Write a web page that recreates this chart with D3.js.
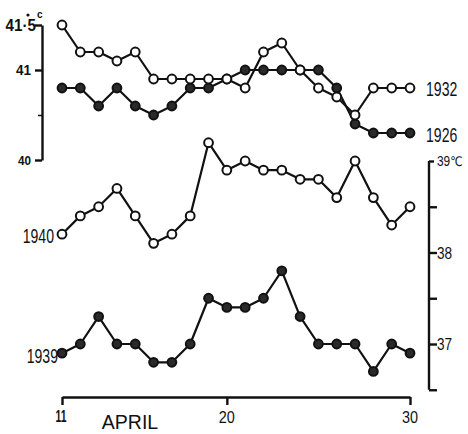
<!DOCTYPE html>
<html>
<head>
<meta charset="utf-8">
<script src="https://cdn.jsdelivr.net/npm/d3@7"></script>
<style>
  html, body { margin: 0; padding: 0; background: #fff; }
  svg { display: block; }
  text { fill: #111; }
</style>
</head>
<body>
<svg id="chart" width="468" height="434"></svg>
<script>
// ---- data ----
const days = d3.range(11, 31); // April 11 .. 30
const s1932 = [41.5, 41.2, 41.2, 41.1, 41.2, 40.9, 40.9, 40.9, 40.9, 40.9, 40.8, 41.2, 41.3, 41.0, 40.8, 40.7, 40.5, 40.8, 40.8, 40.8];
const s1926 = [40.8, 40.8, 40.6, 40.8, 40.6, 40.5, 40.6, 40.8, 40.8, 40.9, 41.0, 41.0, 41.0, 41.0, 41.0, 40.8, 40.4, 40.3, 40.3, 40.3];
const s1940 = [38.2, 38.4, 38.5, 38.7, 38.4, 38.1, 38.2, 38.4, 39.2, 38.9, 39.0, 38.9, 38.9, 38.8, 38.8, 38.6, 39.0, 38.6, 38.3, 38.5];
const s1939 = [36.9, 37.0, 37.3, 37.0, 37.0, 36.8, 36.8, 37.0, 37.5, 37.4, 37.4, 37.5, 37.8, 37.3, 37.0, 37.0, 37.0, 36.7, 37.0, 36.9];
const xTicks = [11, 20, 30];
const xTickLabels = ["11", "20", "30"];
const leftTicks = [40, 40.5, 41, 41.5];
const leftTickLabels = ["40", "", "41", "41·5"];
const rightTicks = [36.5, 37, 37.5, 38, 38.5, 39];
const rightTickLabels = ["", "37", "", "38", "", "39"];
const xTitle = "APRIL";

const svg = d3.select("#chart");
const ink = "#111";
const sans = "'Liberation Sans','DejaVu Sans',Arial,sans-serif";

// ---- scales ----
const x = d3.scaleLinear().domain([11, 30]).range([62, 410]);
const yL = d3.scaleLinear().domain([40, 41.5]).range([160, 25]);
const yR = d3.scaleLinear().domain([37, 39]).range([344, 161]);

// condensed text helper
function cText(str, px, py, size, anchor, sx, weight) {
  const g = svg.append("g").attr("transform", `translate(${px},${py}) scale(${sx},1)`);
  return g.append("text").attr("x", 0).attr("y", 0)
    .attr("text-anchor", anchor)
    .attr("font-family", sans)
    .attr("font-weight", weight || "normal")
    .attr("font-size", size)
    .text(str);
}

// ---- axes ----
function styleAxis(g, w) {
  g.select(".domain").attr("stroke", ink).attr("stroke-width", w);
  g.selectAll(".tick line").attr("stroke", ink).attr("stroke-width", w);
  g.selectAll(".tick text").remove();
}

const gL = svg.append("g").attr("transform", "translate(42,0)")
  .call(d3.axisLeft(yL).tickValues(leftTicks).tickSize(7).tickSizeOuter(0).tickFormat(""));
styleAxis(gL, 2.4);
gL.selectAll(".tick").filter(d => d === 40.5).select("line").attr("x2", -4).attr("stroke-width", 1.5);

const gR = svg.append("g").attr("transform", "translate(429,0)")
  .call(d3.axisRight(yR).tickValues(rightTicks).tickSize(8).tickSizeOuter(0).tickFormat(""));
gR.select(".domain").attr("d", `M0,${yR(39)}V${yR(36.5)}`);
styleAxis(gR, 2.4);
gR.selectAll(".tick").filter(d => d === 39).select("line").attr("x2", 5);

const gX = svg.append("g").attr("transform", "translate(0,397)")
  .call(d3.axisBottom(x).tickValues(xTicks).tickSize(8).tickSizeOuter(0).tickFormat(""));
styleAxis(gX, 2.4);

// left tick labels
leftTicks.forEach((v, i) => {
  const lab = leftTickLabels[i];
  if (!lab) return;
  if (v === 41.5) {
    cText(lab, 36, 31, 16, "end", 0.95, "bold");
    return;
  }
  const size = v === 40 ? 13 : 15;
  cText(lab, 31, yL(v) + size * 0.36, size, "end", 0.9, "bold");
});
// "°c" unit for the top left label
svg.append("text").attr("x", 37).attr("y", 18)
  .attr("font-family", sans).attr("font-weight", "bold").attr("font-size", 10).text("c");
svg.append("circle").attr("cx", 28).attr("cy", 15).attr("r", 1.6).attr("fill", ink);

// right tick labels
rightTicks.forEach((v, i) => {
  const lab = rightTickLabels[i];
  if (!lab) return;
  if (v === 39) {
    const t = cText(lab, 437, yR(v) + 5, 14, "start", 0.85);
    t.append("tspan").attr("font-size", 13).text("℃");
    return;
  }
  cText(lab, 437, yR(v) + 6, 17, "start", 0.8);
});

// x tick labels
xTicks.forEach((v, i) => {
  if (v === 11) cText(xTickLabels[i], x(v) - 1, 422, 16, "middle", 0.65, "bold");
  else cText(xTickLabels[i], x(v), 423, 17, "middle", 0.85);
});
svg.append("text").attr("x", 130).attr("y", 429).attr("text-anchor", "middle")
  .attr("font-family", sans).attr("font-size", 19.5)
  .text(xTitle);

// ---- series ----
function drawSeries(vals, yScale, filled) {
  const pts = days.map((d, i) => [d, vals[i]]);
  const line = d3.line().x(p => x(p[0])).y(p => yScale(p[1]));
  svg.append("path").datum(pts).attr("d", line)
    .attr("fill", "none").attr("stroke", ink).attr("stroke-width", 2.2)
    .attr("stroke-linejoin", "round");
  svg.append("g").selectAll("circle").data(pts).join("circle")
    .attr("cx", p => x(p[0])).attr("cy", p => yScale(p[1]))
    .attr("r", 4.4)
    .attr("fill", filled ? "#2a2a2a" : "#fff")
    .attr("stroke", ink).attr("stroke-width", 2);
}
drawSeries(s1926, yL, true);
drawSeries(s1932, yL, false);
drawSeries(s1939, yR, true);
drawSeries(s1940, yR, false);

// ---- series labels ----
label("1932", x(30) + 16, yL(s1932[19]) + 8, "start");
label("1926", x(30) + 16, yL(s1926[19]) + 9, "start");
label("1940", x(11) - 8, yR(s1940[0]) + 9, "end");
label("1939", x(11) - 4, yR(s1939[0]) + 10, "end");
function label(txt, px, py, anchor) {
  cText(txt, px, py, 21, anchor, 0.67);
}
</script>
</body>
</html>
